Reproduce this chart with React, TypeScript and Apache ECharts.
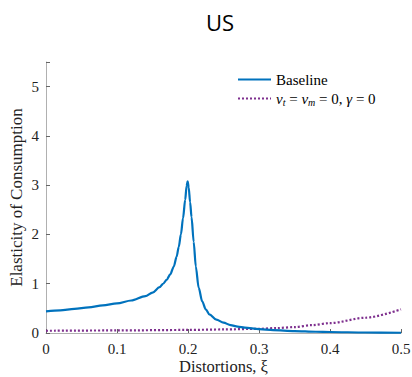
import React, { useEffect, useRef } from "react";
import * as echarts from "echarts";

const title = "US";
const xTicks = [0, 0.1, 0.2, 0.3, 0.4, 0.5];
const baselineX = [0, 0.02, 0.04, 0.06, 0.08, 0.1, 0.12, 0.14, 0.15, 0.16, 0.165, 0.17, 0.175, 0.18, 0.184, 0.187, 0.19, 0.193, 0.196, 0.198, 0.1995, 0.201, 0.203, 0.205, 0.208, 0.211, 0.215, 0.22, 0.225, 0.23, 0.24, 0.25, 0.26, 0.27, 0.28, 0.3, 0.32, 0.35, 0.38, 0.4, 0.45, 0.5];
const baselineY = [0.44, 0.46, 0.49, 0.52, 0.56, 0.6, 0.66, 0.75, 0.82, 0.93, 1.0, 1.08, 1.19, 1.35, 1.55, 1.75, 2.0, 2.33, 2.7, 2.98, 3.08, 2.95, 2.65, 2.35, 1.85, 1.35, 0.92, 0.64, 0.48, 0.38, 0.27, 0.21, 0.16, 0.13, 0.11, 0.08, 0.06, 0.04, 0.025, 0.02, 0.01, 0.005];
const altX = [0, 0.1, 0.2, 0.25, 0.3, 0.325, 0.35, 0.375, 0.4, 0.45, 0.5];
const altY = [0.045, 0.052, 0.062, 0.072, 0.085, 0.1, 0.12, 0.16, 0.2, 0.31, 0.48];

const serif = "'Liberation Serif', 'DejaVu Serif', serif";

export default function App() {
  const ref = useRef<HTMLDivElement>(null);
  useEffect(() => {
    if (!ref.current) return;
    const chart = echarts.init(ref.current, null, { renderer: "svg" });
    chart.setOption({
      animation: false,
      backgroundColor: "#ffffff",
      title: {
        text: title,
        left: 215,
        top: 6,
        textAlign: "center",
        textStyle: { fontFamily: "'Open Sans', 'Noto Sans', sans-serif", fontSize: 22, fontWeight: "normal", color: "#000" },
      },
      grid: { left: 46, right: 11, top: 62, bottom: 44, containLabel: false, outerBoundsMode: "none" },
      legend: {
        orient: "vertical",
        left: 237,
        top: 72,
        padding: 0,
        itemWidth: 33,
        itemHeight: 10,
        itemGap: 4,
        itemStyle: { opacity: 0 },
        textStyle: {
          fontFamily: serif,
          fontSize: 15,
          color: "#000",
          rich: {
            n: { fontFamily: serif, fontSize: 15, fontStyle: "italic", color: "#000" },
            s: { fontFamily: serif, fontSize: 10, fontStyle: "italic", color: "#000", padding: [7, 0, 0, 0] },
            t: { fontFamily: serif, fontSize: 15, color: "#000" },
          },
        },
        formatter: (name: string) =>
          name === "Baseline" ? "{t|Baseline}" : "{n|ν}{s|t}{t| = }{n|ν}{s|m}{t| = 0, }{n|γ}{t| = 0}",
        data: ["Baseline", "alt"],
      },
      xAxis: {
        type: "value",
        min: 0,
        max: 0.5,
        interval: 0.1,
        name: "Distortions, ξ",
        nameLocation: "middle",
        nameGap: 25,
        nameMoveOverlap: false,
        nameTextStyle: { fontFamily: serif, fontSize: 16.5, color: "#222", lineHeight: 16, verticalAlign: "top" },
        axisLine: { lineStyle: { color: "#b0b0b0", width: 1 } },
        axisTick: { inside: true, length: 4, lineStyle: { color: "#666" } },
        axisLabel: { fontFamily: serif, fontSize: 15, color: "#222", margin: 8, formatter: (v: number) => (xTicks.includes(Number(v.toFixed(1))) ? String(Number(v.toFixed(1))) : "") },
        splitLine: { show: false },
      },
      yAxis: {
        type: "value",
        min: 0,
        max: 5.5,
        interval: 1,
        name: "Elasticity of Consumption",
        nameLocation: "middle",
        nameGap: 21,
        nameMoveOverlap: false,
        nameTextStyle: { fontFamily: serif, fontSize: 17, color: "#222" },
        axisLine: { show: true, lineStyle: { color: "#b0b0b0", width: 1 } },
        axisTick: { show: true, inside: true, length: 4, lineStyle: { color: "#666" } },
        axisLabel: { fontFamily: serif, fontSize: 15, color: "#222", margin: 7, formatter: (v: number) => (v > 5 ? "" : String(v)) },
        splitLine: { show: false },
      },
      series: [
        {
          name: "Baseline",
          type: "line",
          data: baselineX.map((x, i) => [x, baselineY[i]]),
          showSymbol: false,
          symbol: "none",
          smooth: 0.3,
          smoothMonotone: "x",
          lineStyle: { color: "#0072BD", width: 2.2 },
          itemStyle: { color: "#0072BD" },
          z: 3,
        },
        {
          name: "alt",
          type: "line",
          data: altX.map((x, i) => [x, altY[i]]),
          showSymbol: false,
          symbol: "none",
          smooth: 0.3,
          smoothMonotone: "x",
          lineStyle: { color: "#7E2F8E", width: 2.2, type: [2, 2] },
          itemStyle: { color: "#7E2F8E" },
          z: 2,
        },
      ],
    });
    return () => chart.dispose();
  }, []);
  return <div ref={ref} style={{ width: 412, height: 377, position: "absolute", left: 0, top: 0 }} />;
}
